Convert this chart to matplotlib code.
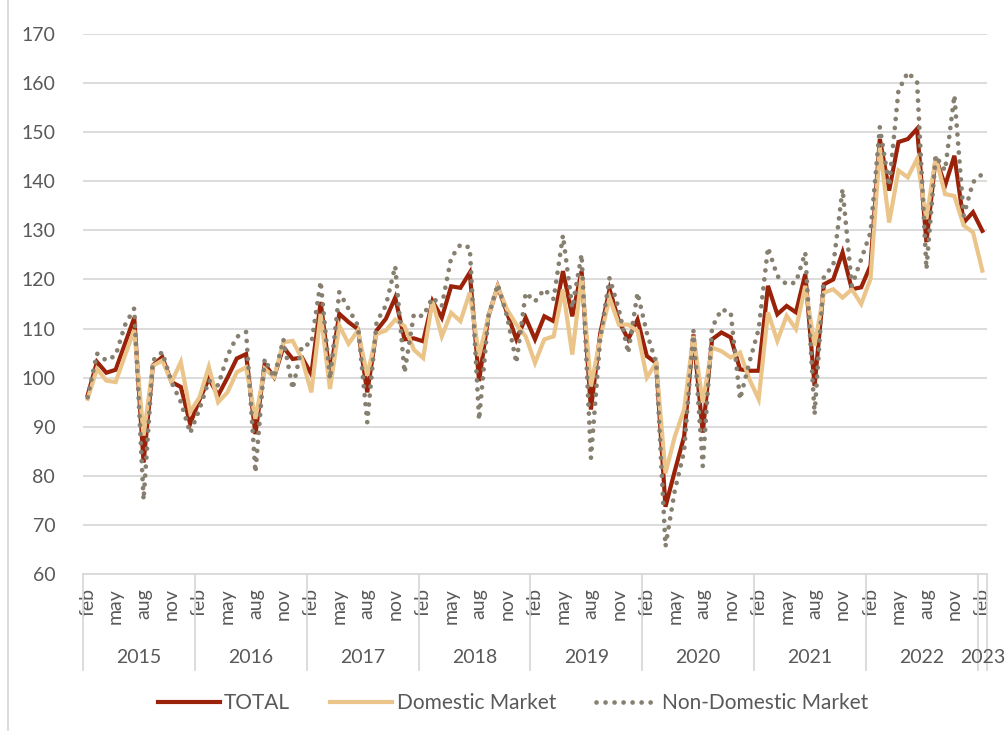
import numpy as np
import matplotlib
matplotlib.use("Agg")
import matplotlib.pyplot as plt
from matplotlib.lines import Line2D

# monthly index values, first category of 2015 through the single 2023 category
TOTAL = [96.4, 103.2, 101.0, 101.6, 106.9, 112.2, 82.7, 102.5, 104.2, 99.1, 98.1, 90.6,
         95.5, 99.8, 96.4, 100.0, 103.9, 104.8, 88.5, 102.8, 100.1, 106.2, 103.8, 104.1,
         100.7, 115.4, 100.4, 113.0, 111.3, 109.9, 97.0, 109.6, 112.0, 116.3, 107.8, 108.0,
         107.4, 115.6, 112.2, 118.6, 118.3, 121.4, 99.3, 112.5, 118.6, 113.2, 107.8, 112.2,
         107.8, 112.5, 111.5, 121.7, 112.5, 121.7, 93.5, 109.0, 118.0, 111.5, 107.8, 111.8,
         104.4, 103.0, 73.7, 81.0, 88.0, 108.8, 88.8, 107.8, 109.2, 108.2, 101.7, 101.4,
         101.4, 118.7, 112.9, 114.6, 113.3, 121.1, 98.3, 119.0, 120.0, 125.5, 118.0, 118.4,
         122.8, 148.6, 138.1, 148.0, 148.6, 150.7, 127.6, 144.9, 139.1, 145.2, 131.6, 133.7,
         129.9]
DOMESTIC = [95.7, 101.8, 99.4, 99.1, 104.5, 109.7, 88.2, 102.4, 103.5, 99.1, 103.2, 93.0,
            96.0, 102.2, 95.0, 97.0, 101.1, 102.1, 91.6, 101.8, 100.1, 107.2, 107.5, 103.8,
            97.0, 113.0, 97.7, 110.6, 106.9, 109.6, 100.4, 108.9, 109.6, 111.8, 110.5, 105.7,
            104.0, 115.6, 108.4, 113.2, 111.5, 117.3, 104.4, 112.5, 118.6, 113.9, 110.8, 108.4,
            103.0, 107.8, 108.4, 118.0, 104.7, 120.7, 98.2, 108.0, 116.3, 110.8, 110.8, 109.5,
            100.0, 103.0, 80.5, 88.0, 93.5, 108.5, 94.9, 106.1, 105.4, 104.1, 105.1, 99.7,
            95.6, 113.3, 107.5, 112.6, 109.9, 118.7, 106.5, 117.3, 118.0, 116.3, 118.0, 115.0,
            120.1, 146.9, 131.6, 142.2, 140.8, 144.6, 132.3, 144.9, 137.4, 137.0, 131.0, 129.6,
            121.8]
NON_DOMESTIC = [96.0, 104.9, 103.5, 104.5, 110.7, 114.1, 75.1, 103.5, 105.2, 99.1, 95.0, 88.7,
                93.6, 99.4, 98.4, 104.5, 108.3, 109.3, 80.7, 103.8, 100.0, 107.8, 97.7, 106.5,
                106.9, 119.6, 99.7, 117.4, 114.0, 110.6, 90.9, 111.3, 114.7, 122.7, 101.0, 112.9,
                112.5, 116.3, 114.6, 124.4, 127.1, 126.5, 91.4, 112.5, 119.0, 112.5, 103.0, 117.3,
                115.5, 118.0, 116.0, 129.0, 114.2, 125.1, 83.6, 108.0, 120.3, 113.9, 105.0, 117.3,
                109.1, 103.0, 65.6, 77.0, 85.0, 109.5, 82.0, 110.2, 113.9, 113.3, 95.6, 103.1,
                109.9, 126.5, 120.7, 119.0, 119.4, 125.5, 92.5, 120.7, 122.8, 138.4, 118.7, 124.1,
                129.6, 151.0, 139.1, 158.5, 162.2, 160.2, 122.1, 145.2, 142.2, 157.5, 133.0, 139.8,
                141.5]

YEARS = ["2015", "2016", "2017", "2018", "2019", "2020", "2021", "2022", "2023"]
MONTHS_IN_YEAR = [12, 12, 12, 12, 12, 12, 12, 12, 1]
MONTH_LABELS = ["feb", "may", "aug", "nov"]

RED = "#9A2209"
TAN = "#EBC48A"
GREY = "#878070"
TXT = "#595959"
GRID = "#D9D9D9"
plt.rcParams["font.family"] = ["Lato", "DejaVu Sans"]

fig = plt.figure(figsize=(10.07, 7.31), dpi=100)
ax = fig.add_axes([83 / 1007, 1 - 574 / 731, 904 / 1007, 540 / 731])

x = np.arange(len(TOTAL))
ax.plot(x, TOTAL, color=RED, lw=3.0, solid_joinstyle="miter", zorder=3)
ax.plot(x, DOMESTIC, color=TAN, lw=3.0, solid_joinstyle="miter", zorder=4)
ax.plot(x, NON_DOMESTIC, color=GREY, lw=3.4, dash_capstyle="round",
        linestyle=(0, (0.01, 1.9)), zorder=5)

ax.set_xlim(-0.5, len(TOTAL) - 0.5)
ax.set_ylim(60, 170)
ax.set_yticks(np.arange(60, 171, 10))
ax.yaxis.grid(True, color=GRID, lw=1.3)
ax.set_axisbelow(True)
for s in ["top", "right", "left"]:
    ax.spines[s].set_visible(False)
ax.spines["bottom"].set_color(GRID)
ax.spines["bottom"].set_linewidth(1.3)
ax.tick_params(axis="y", length=0, pad=20, labelsize=14, labelcolor=TXT)

# month ticks and year groups
ticks, labels, bounds = [], [], [-0.5]
start = 0
for yr, n in zip(YEARS, MONTHS_IN_YEAR):
    for k, lab in enumerate(MONTH_LABELS):
        if 3 * k < n:
            ticks.append(start + 3 * k)
            labels.append(lab)
    ax.text(start + (n - 1) / 2, -0.155, yr, transform=ax.get_xaxis_transform(),
            ha="center", va="center", fontsize=14, color=TXT)
    start += n
    bounds.append(start - 0.5)
ax.set_xticks(ticks)
ax.set_xticklabels(labels, rotation=90)
ax.tick_params(axis="x", length=0, pad=10, labelsize=14, labelcolor=TXT)
for b in bounds:
    ax.plot([b, b], [0, -0.178], transform=ax.get_xaxis_transform(),
            color=GRID, lw=1.3, clip_on=False)

handles = [
    Line2D([], [], color=RED, lw=3.0),
    Line2D([], [], color=TAN, lw=3.0),
    Line2D([], [], color=GREY, lw=3.4, linestyle=(0, (0.01, 1.9)), dash_capstyle="round"),
]
fig.legend(handles, ["TOTAL", "Domestic Market", "Non-Domestic Market"],
           loc="center", bbox_to_anchor=(513 / 1007, 1 - 703 / 731), ncol=3,
           frameon=False, fontsize=15, handlelength=3.0, handletextpad=0.2,
           columnspacing=1.9, labelcolor=TXT)

# chart area border on the left edge
fig.add_artist(Line2D([8 / 1007, 8 / 1007], [0, 1], color=GRID, lw=1.3))

fig.savefig("out.png", dpi=100)
